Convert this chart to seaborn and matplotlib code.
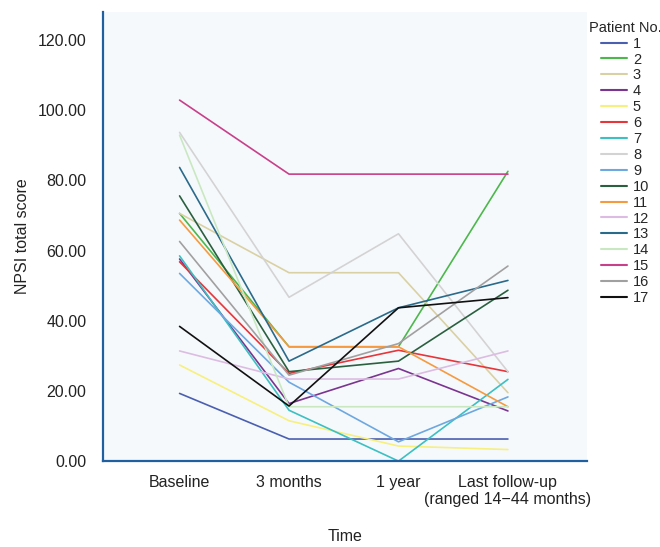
import numpy as np
import pandas as pd
import seaborn as sns
import matplotlib
matplotlib.use('Agg')
import matplotlib.pyplot as plt

# time points
time_labels = ['Baseline', '3 months', '1 year', 'Last follow-up\n(ranged 14\u221244 months)']

# NPSI total score per patient (baseline, 3 months, 1 year, last follow-up)
p1 = [19.3, 6.3, 6.3, 6.3]
p2 = [70.6, 32.6, 32.6, 82.6]
p3 = [70.6, 53.7, 53.7, 19.5]
p4 = [57.6, 16.4, 26.4, 14.3]
p5 = [27.4, 11.5, 4.3, 3.3]
p6 = [56.8, 25.0, 31.6, 25.5]
p7 = [58.5, 14.5, 0.0, 23.3]
p8 = [93.7, 46.7, 64.8, 25.5]
p9 = [53.5, 22.5, 5.5, 18.3]
p10 = [75.6, 25.5, 28.5, 48.7]
p11 = [68.7, 32.6, 32.6, 15.5]
p12 = [31.4, 23.4, 23.4, 31.4]
p13 = [83.7, 28.5, 43.7, 51.5]
p14 = [92.9, 15.5, 15.5, 15.5]
p15 = [102.9, 81.8, 81.8, 81.8]
p16 = [62.6, 24.5, 33.5, 55.6]
p17 = [38.4, 15.7, 43.7, 46.6]

scores = [p1, p2, p3, p4, p5, p6, p7, p8, p9, p10, p11, p12, p13, p14, p15, p16, p17]
patients = [str(i + 1) for i in range(len(scores))]

colors = ['#4a5fb0', '#4cb84c', '#d9d1a3', '#7a3590', '#f7f07e', '#e8353a',
          '#3cc0c2', '#d3d3d3', '#6ea8e0', '#2a6040', '#f59a40', '#dcbce2',
          '#2a6a8a', '#c9e8c2', '#c8408a', '#a0a0a0', '#111111']

rows = []
for pid, vals in zip(patients, scores):
    for t, v in enumerate(vals):
        rows.append({'Time': t, 'score': v, 'patient': pid})
df = pd.DataFrame(rows)

sns.set_style('white')
plt.rcParams['font.family'] = ['Liberation Sans', 'DejaVu Sans']

fig = plt.figure(figsize=(6.6, 5.47), dpi=100)
ax = fig.add_axes([0.156, 0.157, 0.733, 0.821])
ax.set_facecolor('#f6f9fc')

sns.lineplot(data=df, x='Time', y='score', hue='patient', palette=colors,
             hue_order=patients, linewidth=1.2, ax=ax, legend=False)

ax.set_xlim(-0.7, 3.72)
ax.set_ylim(0, 128)
ax.set_xticks(range(len(time_labels)))
ax.set_xticklabels(time_labels, fontsize=11.5, color='#222222')
ax.set_yticks(np.arange(0, 121, 20))
ax.set_yticklabels(['%.2f' % v for v in np.arange(0, 121, 20)], fontsize=11.5, color='#222222')
ax.tick_params(axis='both', direction='in', length=10, width=1, color='#8a8a8a', pad=10)
ax.tick_params(axis='y', pad=12)

for s in ['top', 'right']:
    ax.spines[s].set_visible(False)
for s in ['left', 'bottom']:
    ax.spines[s].set_color('#2060a0')
    ax.spines[s].set_linewidth(1.6)

ax.set_xlabel('Time', fontsize=11.5, color='#222222')
ax.set_ylabel('NPSI total score', fontsize=11.5, color='#222222')
ax.xaxis.set_label_coords(0.5, -0.152)
ax.yaxis.set_label_coords(-0.15, 0.5)

handles = [plt.Line2D([], [], color=c, linewidth=1.5) for c in colors]
leg = fig.legend(handles, patients, title='Patient No.', loc='upper left',
                 bbox_to_anchor=(0.892, 0.962), frameon=False, fontsize=10.5,
                 title_fontsize=10.5, handlelength=1.8, handletextpad=0.4,
                 labelspacing=0.13, borderaxespad=0, borderpad=0)

fig.savefig('out.png', dpi=100)
